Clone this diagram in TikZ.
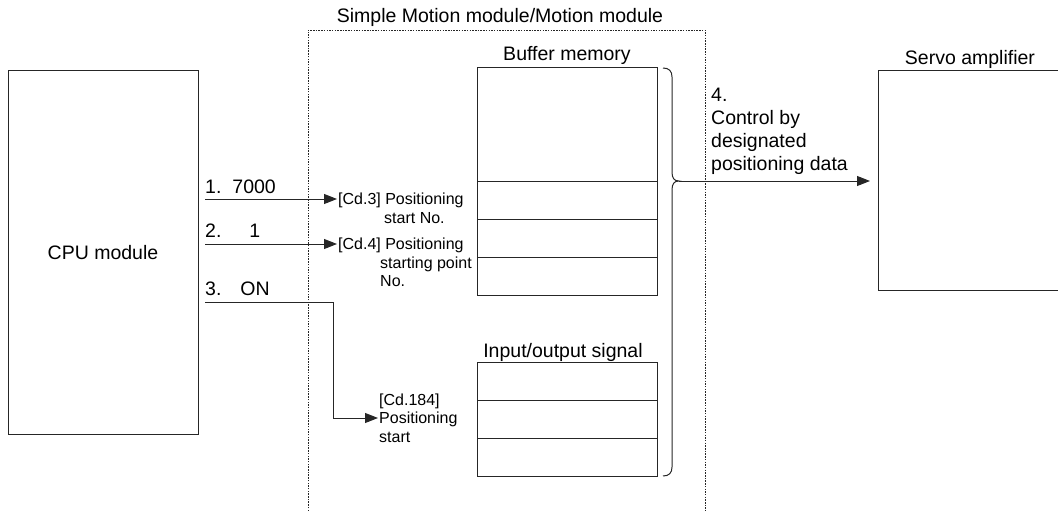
\documentclass[tikz,border=0pt]{standalone}
\usepackage{fontspec}
\setmainfont{Liberation Sans}
\usepackage{tikz}
\usetikzlibrary{positioning,arrows.meta}
\tikzset{cell/.style={draw=black!85,line width=1pt,minimum width=180pt,inner sep=0pt,outer sep=0pt},
	lbl/.style={inner sep=0pt,font=\fontsize{19.5}{23}\selectfont,align=left,anchor=base west},
	cd/.style={inner xsep=1pt,inner ysep=0pt,font=\fontsize{16}{18.5}\selectfont,align=left,anchor=base west},
	arr/.style={draw=black!85,line width=1pt,-{Triangle[length=13pt,width=10pt]}}}

\begin{document}
\begin{tikzpicture}[x=1pt,y=-1pt]
		\useasboundingbox (0,0) rectangle (1058,511);
		
		\node[cell,minimum width=190pt,minimum height=363pt,font=\fontsize{19.5}{23}\selectfont] (cpu) at (103,252.5) {CPU module};
		
		\draw[black!85,line width=.9pt,dash pattern=on 1.5pt off 1.2pt]
		(308,511)--(308,30)--(705,30)--(705,511);
		\node[lbl,anchor=base] (modtitle) at (500,23) {Simple Motion module/Motion module};
		
		\node[cell,minimum height=113pt,anchor=north west] (bm1) at (477,68) {};
		\node[cell,minimum height=38pt,below=0pt of bm1] (bm2) {};
		\node[cell,minimum height=38pt,below=0pt of bm2] (bm3) {};
		\node[cell,minimum height=38pt,below=0pt of bm3] (bm4) {};
		\node[lbl,anchor=base] (bmtitle) at (567,61) {Buffer memory};
		
		\node[cell,minimum height=38pt,anchor=north west] (io1) at (477,362) {};
		\node[cell,minimum height=38pt,below=0pt of io1] (io2) {};
		\node[cell,minimum height=38pt,below=0pt of io2] (io3) {};
		\node[lbl,anchor=base] (iotitle) at (563,357) {Input/output signal};
		
		\draw[black!85,line width=1pt]
		(663,68) .. controls (669,68) and (672,71) .. (672,77) -- (672,172)
		.. controls (672,178) and (674,181) .. (679,181)
		.. controls (674,181) and (672,184) .. (672,190) -- (672,467)
		.. controls (672,473) and (669,476) .. (663,476);
		\coordinate (br) at (679,181);
		
		\coordinate (sv) at (878,71);
		\draw[black!85,line width=1pt] (1058,71)--(sv)--(878,290)--(1058,290);
		\node[lbl,anchor=base] (svtitle) at (970,65) {Servo amplifier};
		
		\node[lbl] (c1) at (205,193) {1.\hspace{11pt}7000};
		\node[lbl] (c2) at (205,237) {2.\hspace{28pt}1};
		\node[lbl] (c3) at (205,295) {3.\hspace{19pt}ON};
		
		% multi-line labels sit on the baseline of their last line
		\node[cd] (cd3) at (337,223) {[Cd.3] Positioning\\\hspace*{46pt}start No.};
		\node[cd] (cd4) at (337,286.5) {[Cd.4] Positioning\\\hspace*{42pt}starting point\\\hspace*{42pt}No.};
		\node[cd] (cd184) at (378,442) {[Cd.184]\\Positioning\\start};
		\node[lbl] (ctrl) at (711,170) {4.\\Control by\\designated\\positioning data};
		
		\coordinate (o1) at (205,199);
		\coordinate (o2) at (205,244);
		\coordinate (o3) at (205,302);
		\coordinate (k3) at (333,302);
		\draw[arr] (o1) -- (o1 -| cd3.west);
		\draw[arr] (o2) -- (o2 -| cd4.west);
		\draw[arr] (o3) -- (k3) |- (cd184.west |- 0,418);
		\draw[arr] (br) -- ([xshift=-8pt]sv |- br);
	\end{tikzpicture}
\end{document}
